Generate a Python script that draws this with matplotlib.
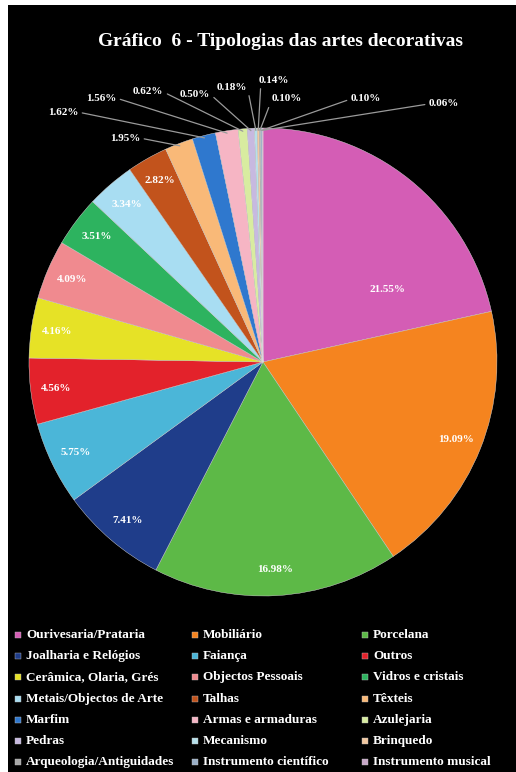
import numpy as np
import matplotlib
matplotlib.use("Agg")
import matplotlib.pyplot as plt
from matplotlib.patches import Rectangle

# ---------------- data ----------------
categories = [
    "Ourivesaria/Prataria", "Mobiliário", "Porcelana",
    "Joalharia e Relógios", "Faiança", "Outros",
    "Cerâmica, Olaria, Grés", "Objectos Pessoais", "Vidros e cristais",
    "Metais/Objectos de Arte", "Talhas", "Têxteis",
    "Marfim", "Armas e armaduras", "Azulejaria",
    "Pedras", "Mecanismo", "Brinquedo",
    "Arqueologia/Antiguidades", "Instrumento científico", "Instrumento musical",
]
values = [21.55, 19.09, 16.98, 7.41, 5.75, 4.56, 4.16, 4.09, 3.51, 3.34, 2.82,
          1.95, 1.62, 1.56, 0.62, 0.50, 0.18, 0.14, 0.10, 0.10, 0.06]
value_labels = ["21.55%", "19.09%", "16.98%", "7.41%", "5.75%", "4.56%", "4.16%",
                "4.09%", "3.51%", "3.34%", "2.82%", "1.95%", "1.62%", "1.56%",
                "0.62%", "0.50%", "0.18%", "0.14%", "0.10%", "0.10%", "0.06%"]
title = "Gráfico  6 - Tipologias das artes decorativas"

# ---------------- style ----------------
colors = ["#D45DB5", "#F5841F", "#5DB947", "#1F3D8A", "#4BB6D8", "#E3222B",
          "#E6E226", "#F08A8F", "#2DB35F", "#A8DDF2", "#C2531C", "#F9B978",
          "#2F78CE", "#F6B5C4", "#D8ECA0", "#C7B9E0", "#B6E0EA", "#F2C8A0",
          "#A8A8A8", "#9BB0C8", "#C8A8C8"]

W, H = 516, 772
fig = plt.figure(figsize=(W / 100, H / 100), dpi=100)
fig.patch.set_facecolor("white")
fig.patches.append(Rectangle((8 / W, 0), 1 - 8 / W, 1 - 5 / H,
                             transform=fig.transFigure, facecolor="black",
                             edgecolor="none", zorder=-10))

serif = ["Liberation Serif", "DejaVu Serif"]

# pie axes: centre (263, 362) px, radius 234 px
cx, cy, R = 263, 362, 234
ax = fig.add_axes([(cx - R) / W, (H - cy - R) / H, 2 * R / W, 2 * R / H])
ax.set_facecolor("none")
wedges, _ = ax.pie(values, colors=colors, startangle=90, counterclock=False,
                   radius=1, wedgeprops=dict(linewidth=0.3, edgecolor="#DDDDDD"))
ax.set_xlim(-1, 1)
ax.set_ylim(-1, 1)
ax.axis("off")

# label placement (positions in radius units) for outer labels
outer_pos = {
    11: (-0.590, 0.957), 12: (-0.855, 1.068), 13: (-0.692, 1.128),
    14: (-0.491, 1.154), 15: (-0.291, 1.145), 16: (-0.132, 1.175),
    17: (0.045, 1.205), 18: (0.103, 1.124), 19: (0.440, 1.124),
    20: (0.774, 1.103),
}
special_inside = {0: (0.53, 0.31)}

for i, w in enumerate(wedges):
    mid = np.deg2rad((w.theta1 + w.theta2) / 2)
    if i in outer_pos:
        tx, ty = outer_pos[i]
        ex, ey = np.cos(mid) * 0.99, np.sin(mid) * 0.99
        if tx < ex - 0.05:
            rel = (1, 0.5)
        elif i == 17:
            rel = (0.08, 0)
        else:
            rel = (0, 0.5)
        ax.annotate(value_labels[i], xy=(ex, ey), xytext=(tx, ty),
                    ha="center", va="center", color="white", fontsize=8,
                    fontweight="bold", family=serif, annotation_clip=False,
                    arrowprops=dict(arrowstyle="-", color="#9A9A9A", lw=0.9,
                                    shrinkA=1, shrinkB=0, relpos=rel))
    else:
        if i in special_inside:
            tx, ty = special_inside[i]
        else:
            tx, ty = np.cos(mid) * 0.89, np.sin(mid) * 0.89
        ax.text(tx, ty, value_labels[i], ha="center", va="center", color="white",
                fontsize=8, fontweight="bold", family=serif)

# title
fig.text(280 / W, 1 - 42 / H, title, ha="center", va="center", color="white",
         fontsize=14, fontweight="bold", family=serif)

# legend (row-major, 3 columns)
col_marker_x = [18, 195, 365]
row_y0, row_step = 635, 21.2
for i, (lab, col) in enumerate(zip(categories, colors)):
    r, c = divmod(i, 3)
    y = row_y0 + r * row_step
    mx = col_marker_x[c]
    fig.patches.append(Rectangle(((mx - 3) / W, 1 - (y + 3) / H), 6 / W, 6 / H,
                                 transform=fig.transFigure, facecolor=col,
                                 edgecolor="#BBBBBB", linewidth=0.3, zorder=3))
    fig.text((mx + 8) / W, 1 - y / H, lab, ha="left", va="center", color="white",
             fontsize=9.5, fontweight="bold", family=serif)

fig.savefig("out.png", dpi=100, facecolor=fig.get_facecolor())
